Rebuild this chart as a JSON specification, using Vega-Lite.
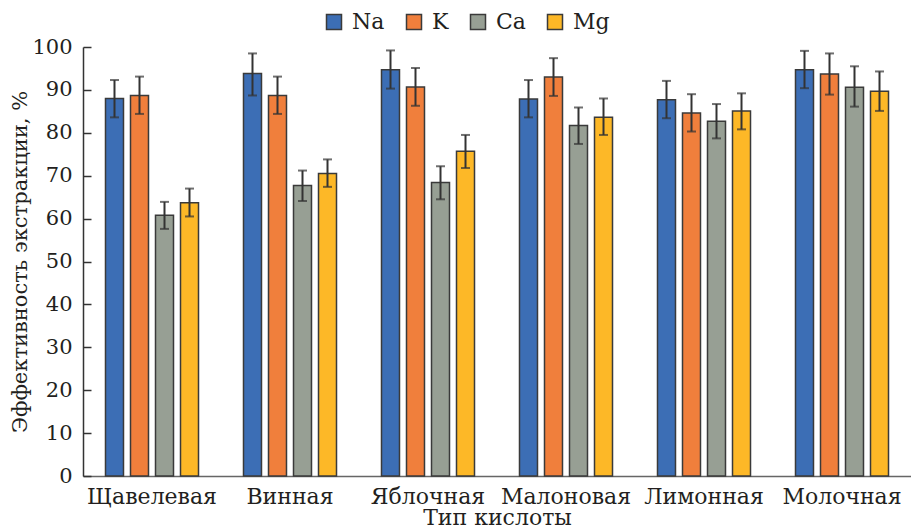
{
  "$schema": "https://vega.github.io/schema/vega-lite/v6.json",
  "width": 828,
  "height": 429,
  "autosize": {"type": "none"},
  "padding": {"left": 83, "top": 47, "right": 0, "bottom": 56},
  "background": "white",
  "config": {
    "view": {"stroke": null},
    "font": "DejaVu Serif",
    "axis": {"labelFont": "DejaVu Serif", "titleFont": "DejaVu Serif", "labelColor": "#231f20", "titleColor": "#231f20", "titleFontWeight": "normal", "grid": false},
    "legend": {"labelFont": "DejaVu Serif", "titleFont": "DejaVu Serif", "labelColor": "#231f20"}
  },
  "data": {
    "values": [
      {"acid": "Щавелевая", "element": "Na", "value": 88, "lo": 83.6, "hi": 92.3},
      {"acid": "Щавелевая", "element": "K", "value": 88.7, "lo": 84.4, "hi": 93.1},
      {"acid": "Щавелевая", "element": "Ca", "value": 60.8, "lo": 57.6, "hi": 63.9},
      {"acid": "Щавелевая", "element": "Mg", "value": 63.7, "lo": 60.5, "hi": 67},
      {"acid": "Винная", "element": "Na", "value": 93.8, "lo": 88.7, "hi": 98.5},
      {"acid": "Винная", "element": "K", "value": 88.7, "lo": 84.4, "hi": 93.1},
      {"acid": "Винная", "element": "Ca", "value": 67.7, "lo": 64.1, "hi": 71.2},
      {"acid": "Винная", "element": "Mg", "value": 70.5, "lo": 67.4, "hi": 73.8},
      {"acid": "Яблочная", "element": "Na", "value": 94.7, "lo": 90.3, "hi": 99.2},
      {"acid": "Яблочная", "element": "K", "value": 90.7, "lo": 86.3, "hi": 95.1},
      {"acid": "Яблочная", "element": "Ca", "value": 68.4, "lo": 64.5, "hi": 72.2},
      {"acid": "Яблочная", "element": "Mg", "value": 75.7, "lo": 71.8, "hi": 79.5},
      {"acid": "Малоновая", "element": "Na", "value": 87.9, "lo": 83.6, "hi": 92.3},
      {"acid": "Малоновая", "element": "K", "value": 93, "lo": 88.6, "hi": 97.4},
      {"acid": "Малоновая", "element": "Ca", "value": 81.7, "lo": 77.4, "hi": 85.9},
      {"acid": "Малоновая", "element": "Mg", "value": 83.6, "lo": 79.5, "hi": 88},
      {"acid": "Лимонная", "element": "Na", "value": 87.7, "lo": 83.4, "hi": 92.1},
      {"acid": "Лимонная", "element": "K", "value": 84.6, "lo": 80.3, "hi": 89},
      {"acid": "Лимонная", "element": "Ca", "value": 82.7, "lo": 78.7, "hi": 86.7},
      {"acid": "Лимонная", "element": "Mg", "value": 85.1, "lo": 80.8, "hi": 89.2},
      {"acid": "Молочная", "element": "Na", "value": 94.7, "lo": 90.4, "hi": 99.1},
      {"acid": "Молочная", "element": "K", "value": 93.7, "lo": 88.9, "hi": 98.5},
      {"acid": "Молочная", "element": "Ca", "value": 90.6, "lo": 86.1, "hi": 95.5},
      {"acid": "Молочная", "element": "Mg", "value": 89.7, "lo": 85.1, "hi": 94.3}
    ]
  },
  "encoding": {
    "x": {
      "field": "acid", "type": "nominal",
      "sort": ["Щавелевая", "Винная", "Яблочная", "Малоновая", "Лимонная", "Молочная"],
      "scale": {"paddingInner": 0.326, "paddingOuter": 0.163},
      "axis": {"title": "Тип кислоты", "labelAngle": 0, "ticks": false, "labelFontSize": 22, "titleFontSize": 22, "labelPadding": 10, "titlePadding": 0, "domainColor": "#666", "domainWidth": 1.5}
    },
    "xOffset": {
      "field": "element", "type": "nominal", "sort": ["Na", "K", "Ca", "Mg"],
      "scale": {"paddingInner": 0.28, "paddingOuter": 0}
    }
  },
  "layer": [
    {
      "mark": {"type": "bar", "stroke": "#3a3a3a", "strokeWidth": 1.5},
      "encoding": {
        "y": {
          "field": "value", "type": "quantitative",
          "scale": {"domain": [0, 100], "nice": false},
          "axis": {"title": "Эффективность экстракции, %", "values": [0, 10, 20, 30, 40, 50, 60, 70, 80, 90, 100], "tickSize": -8, "labelFontSize": 21, "titleFontSize": 21, "labelPadding": 19, "titlePadding": 1, "domainColor": "#333", "tickColor": "#333", "domainWidth": 1.5, "tickWidth": 1.5}
        },
        "color": {
          "field": "element", "type": "nominal", "sort": ["Na", "K", "Ca", "Mg"],
          "scale": {"domain": ["Na", "K", "Ca", "Mg"], "range": ["#3c6eb5", "#f07f3c", "#979f94", "#fdb827"]},
          "legend": {"title": null, "orient": "none", "direction": "horizontal", "legendX": 240, "legendY": -36, "symbolType": "square", "symbolSize": 225, "symbolStrokeColor": "#3a3a3a", "symbolStrokeWidth": 1.5, "labelFontSize": 22, "labelOffset": 7, "columnPadding": 18}
        }
      }
    },
    {
      "mark": {"type": "rule", "color": "#333", "strokeWidth": 2},
      "encoding": {
        "y": {"field": "lo", "type": "quantitative"},
        "y2": {"field": "hi"}
      }
    },
    {
      "mark": {"type": "tick", "color": "#333", "size": 9, "thickness": 2},
      "encoding": {"y": {"field": "lo", "type": "quantitative"}}
    },
    {
      "mark": {"type": "tick", "color": "#333", "size": 9, "thickness": 2},
      "encoding": {"y": {"field": "hi", "type": "quantitative"}}
    }
  ]
}
